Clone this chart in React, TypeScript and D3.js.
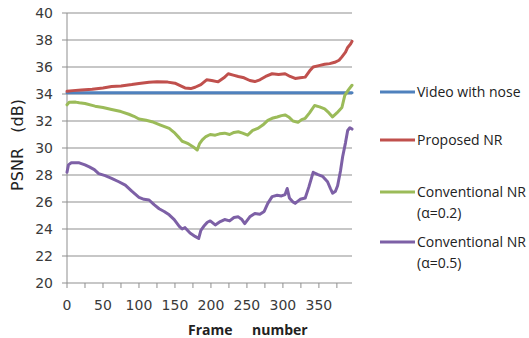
import React from "react";
import * as d3 from "d3";

type P = [number, number];

const yTicks = [20, 22, 24, 26, 28, 30, 32, 34, 36, 38, 40];
const xLabelTicks = [0, 50, 100, 150, 200, 250, 300, 350];
const xMinorTicks = [0, 25, 50, 75, 100, 125, 150, 175, 200, 225, 250, 275, 300, 325, 350, 375];

const seriesNames = ["Video with nose", "Proposed NR", "Conventional NR|(\u03b1=0.2)", "Conventional NR|(\u03b1=0.5)"];
const seriesColors = ["#4F81BD", "#C0504D", "#9BBB59", "#7D60A6"];

const videoNoise: P[] = [[0, 34.1], [100, 34.1], [200, 34.1], [300, 34.1], [396, 34.1]];

const proposedNR: P[] = [
  [0, 34.2], [8, 34.25], [20, 34.3], [35, 34.35], [50, 34.45], [62, 34.55], [75, 34.6], [90, 34.7],
  [100, 34.78], [114, 34.87], [125, 34.9], [140, 34.88], [150, 34.8], [158, 34.6], [164, 34.45],
  [172, 34.4], [178, 34.5], [186, 34.7], [194, 35.05], [201, 35.0], [210, 34.9], [218, 35.2],
  [224, 35.5], [231, 35.4], [238, 35.3], [246, 35.2], [254, 35.0], [261, 34.92], [268, 35.05],
  [276, 35.3], [285, 35.5], [294, 35.45], [303, 35.5], [310, 35.3], [317, 35.15], [324, 35.2],
  [331, 35.25], [337, 35.7], [342, 36.0], [350, 36.1], [358, 36.2], [365, 36.25], [372, 36.35],
  [378, 36.5], [382, 36.75], [387, 37.1], [390, 37.45], [394, 37.7], [396, 37.9],
];

const convNR02: P[] = [
  [0, 33.2], [3, 33.38], [12, 33.4], [17, 33.35], [25, 33.3], [39, 33.1], [50, 33.0], [62, 32.85],
  [75, 32.7], [86, 32.5], [93, 32.35], [100, 32.15], [110, 32.05], [118, 31.95], [130, 31.7],
  [142, 31.45], [150, 31.1], [156, 30.75], [160, 30.5], [165, 30.4], [169, 30.3], [175, 30.1],
  [181, 29.85], [184, 30.3], [188, 30.6], [193, 30.85], [199, 31.0], [206, 30.95], [212, 31.05],
  [219, 31.1], [226, 31.0], [232, 31.15], [238, 31.2], [244, 31.1], [251, 30.95], [258, 31.3],
  [265, 31.45], [272, 31.7], [279, 32.05], [285, 32.2], [292, 32.3], [298, 32.4], [303, 32.45],
  [308, 32.3], [314, 32.0], [321, 31.9], [326, 32.1], [331, 32.2], [337, 32.6], [344, 33.15],
  [351, 33.05], [358, 32.9], [364, 32.6], [369, 32.3], [375, 32.6], [382, 33.0], [386, 33.9],
  [391, 34.3], [396, 34.65],
];

const convNR05: P[] = [
  [0, 28.2], [2, 28.75], [6, 28.9], [17, 28.9], [25, 28.75], [31, 28.6], [38, 28.4], [44, 28.1],
  [53, 27.95], [62, 27.75], [72, 27.5], [81, 27.25], [90, 26.8], [100, 26.35], [107, 26.2],
  [114, 26.15], [121, 25.8], [128, 25.5], [135, 25.3], [142, 25.05], [149, 24.7], [156, 24.2],
  [160, 24.0], [164, 24.1], [171, 23.7], [178, 23.45], [183, 23.3], [186, 23.9], [190, 24.2],
  [195, 24.5], [199, 24.6], [206, 24.3], [213, 24.55], [219, 24.7], [226, 24.6], [232, 24.85],
  [238, 24.9], [243, 24.7], [247, 24.4], [254, 24.9], [261, 25.15], [268, 25.1], [274, 25.3],
  [279, 25.9], [285, 26.4], [292, 26.5], [298, 26.45], [303, 26.55], [306, 27.0], [309, 26.3],
  [314, 26.0], [317, 25.9], [324, 26.2], [331, 26.3], [336, 27.1], [342, 28.2], [348, 28.05],
  [355, 27.9], [362, 27.5], [366, 27.0], [369, 26.65], [373, 26.8], [376, 27.2], [380, 28.3],
  [383, 29.35], [387, 30.4], [390, 31.3], [393, 31.5], [396, 31.4],
];

const allSeries = [videoNoise, proposedNR, convNR02, convNR05];

export default function App() {
  const W = 529, H = 338;
  const x = d3.scaleLinear().domain([0, 396]).range([67, 352]);
  const y = d3.scaleLinear().domain([20, 40]).range([283, 13]);
  const line = d3.line<P>().x((d) => x(d[0])).y((d) => y(d[1]));
  const tickFont = "'DejaVu Sans', Verdana, sans-serif";
  const legendFont = "'Open Sans', sans-serif";
  const legendY = [92, 140, 192, 242];

  return (
    <svg width={W} height={H} style={{ position: "absolute", left: 0, top: 0, background: "#fff" }}>
      {yTicks.map((t) => (
        <g key={t}>
          <line x1={x(0) - 5} x2={x(396)} y1={y(t)} y2={y(t)} stroke="#8f8f8f" strokeWidth={1} />
          <text x={53} y={y(t) + 5} textAnchor="end" fontFamily={tickFont} fontSize={14} fill="#3a3a3a">
            {t}
          </text>
        </g>
      ))}
      <line x1={x(0)} x2={x(0)} y1={y(40)} y2={y(20)} stroke="#8f8f8f" strokeWidth={1} />
      {xMinorTicks.map((t) => (
        <line key={t} x1={x(t)} x2={x(t)} y1={y(20)} y2={y(20) + 5} stroke="#8f8f8f" strokeWidth={1} />
      ))}
      {xLabelTicks.map((t) => (
        <text key={t} x={x(t)} y={310} textAnchor="middle" fontFamily={tickFont} fontSize={14} fill="#3a3a3a">
          {t}
        </text>
      ))}
      {allSeries.map((s, i) => (
        <path key={i} d={line(s) || ""} fill="none" stroke={seriesColors[i]} strokeWidth={3} strokeLinejoin="round" strokeLinecap="round" />
      ))}
      <text
        transform={`translate(23,145) rotate(-90)`}
        textAnchor="middle"
        fontFamily={tickFont}
        fontSize={16}
        fill="#222"
        style={{ whiteSpace: "pre" }}
      >
        {"PSNR   (dB)"}
      </text>
      <text x={188} y={335} fontFamily={legendFont} fontWeight="bold" fontSize={14} fill="#222">Frame</text>
      <text x={252} y={335} fontFamily={legendFont} fontWeight="bold" fontSize={14} fill="#222">number</text>
      {seriesNames.map((n, i) => {
        const parts = n.split("|");
        return (
          <g key={n}>
            <line x1={380} x2={415} y1={legendY[i]} y2={legendY[i]} stroke={seriesColors[i]} strokeWidth={3} />
            {parts.map((p, j) => (
              <text key={j} x={417} y={legendY[i] + 5 + j * 21} fontFamily={legendFont} fontSize={14} fill="#222">
                {p}
              </text>
            ))}
          </g>
        );
      })}
    </svg>
  );
}
